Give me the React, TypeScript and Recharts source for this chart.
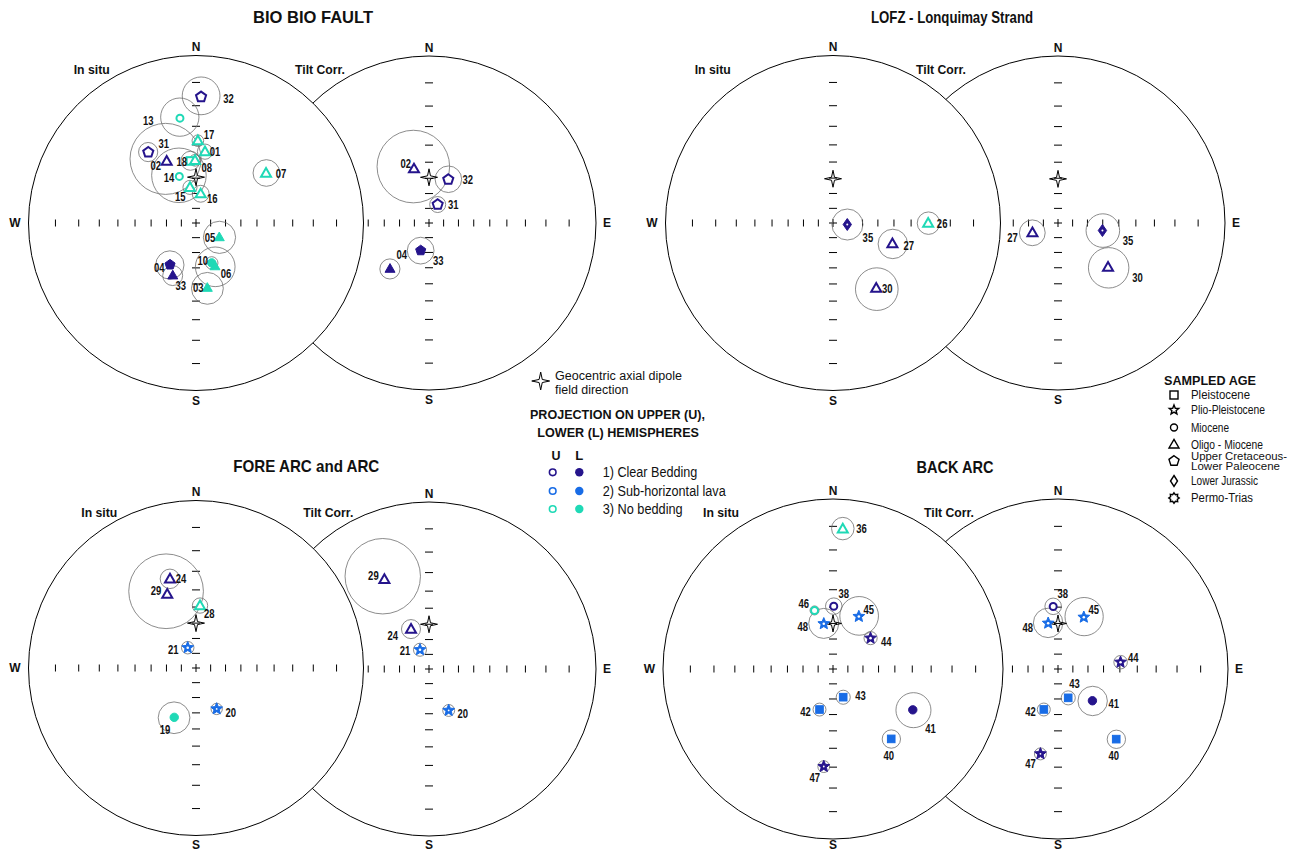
import React from 'react';
import { ScatterChart, Scatter, XAxis, YAxis } from 'recharts';

// site -> sampled age symbol
const SITE_AGE: Record<string, string> = {
  '01': 'tri', '02': 'tri', '03': 'tri', '04': 'tri', '05': 'tri', '06': 'tri', '07': 'tri', '08': 'tri',
  '10': 'circ', '13': 'circ', '14': 'circ', '15': 'tri', '16': 'tri', '17': 'tri', '18': 'sq', '19': 'circ',
  '20': 'star', '21': 'star', '24': 'tri', '26': 'tri', '27': 'tri', '28': 'tri', '29': 'tri', '30': 'tri',
  '31': 'pent', '32': 'pent', '33': 'pent', '35': 'dia', '36': 'tri', '38': 'circ', '40': 'sq', '41': 'circ',
  '42': 'sq', '43': 'sq', '44': 'star', '45': 'star', '46': 'circ', '47': 'star', '48': 'star',
};

// site -> bedding group (1 clear bedding, 2 sub-horizontal lava, 3 no bedding)
const SITE_GROUP: Record<string, number> = {
  '02': 1, '04': 1, '31': 1, '32': 1, '33': 1, '27': 1, '30': 1, '35': 1, '24': 1, '29': 1,
  '38': 1, '41': 1, '44': 1, '47': 1,
  '20': 2, '21': 2, '40': 2, '42': 2, '43': 2, '45': 2, '48': 2,
  '01': 3, '03': 3, '05': 3, '06': 3, '07': 3, '08': 3, '10': 3, '13': 3, '14': 3, '15': 3,
  '16': 3, '17': 3, '18': 3, '19': 3, '26': 3, '28': 3, '36': 3, '46': 3,
};

// [site, declination, inclination, alpha95]  (negative inclination = upper hemisphere)
const bioInSitu: [string, number, number, number][] = [
  ['32', 2.3, -16, 8.2], ['13', 351.3, -25.3, 9.3], ['17', 1.3, -37.7, 3.2], ['01', 7.2, -43.6, 4.4],
  ['31', 326, -36, 5.2], ['02', 334.6, -45.6, 20.5], ['18', 354.9, -49.2, 5.7], ['08', 359.1, -49, 3.5],
  ['14', 340.3, -57.1, 17], ['15', 350.4, -65.7, 4.6], ['16', 9.1, -70, 5.6], ['07', 54.6, -35.7, 7.2],
  ['05', 121.4, 71.5, 10.7], ['10', 158.5, 61.3, 4], ['06', 156.3, 58.5, 12.5], ['03', 170.1, 47.1, 9.4],
  ['33', 211.9, 57.3, 8.9], ['04', 203.9, 52.2, 6.1],
];
const bioTilt: [string, number, number, number][] = [
  ['02', 344.5, -52.8, 22], ['32', 23.9, -58.2, 8.4], ['31', 25.2, -76.1, 5.4],
  ['33', 196.8, 70.5, 8.9], ['04', 220.4, 50.4, 6.1],
];
const lofzInSitu: [string, number, number, number][] = [
  ['35', 96, -80.2, 10.5], ['27', 109.3, -48.8, 8.8], ['26', 90.1, -30.8, 5.8], ['30', 146.5, -39.9, 11.9],
];
const lofzTilt: [string, number, number, number][] = [
  ['27', 249.1, -71.4, 8.6], ['35', 99.6, -59.8, 10.7], ['30', 131.5, -46.4, 11.9],
];
const foreInSitu: [string, number, number, number][] = [
  ['24', 343.7, -32.1, 5.1], ['29', 338.7, -39.4, 20.5], ['28', 3.7, -49.1, 4.6],
  ['21', 337.8, -75.1, 4.2], ['20', 153.2, 59.4, 3.6], ['19', 203.8, 54.3, 9.8],
];
const foreTilt: [string, number, number, number][] = [
  ['29', 333.5, -28.2, 18.7], ['24', 335.7, -60.7, 6.1], ['21', 334.9, -75.5, 4.4], ['20', 154.6, 59.3, 3.8],
];
const backInSitu: [string, number, number, number][] = [
  ['36', 4, -10.9, 4.5], ['38', 0.7, -49.5, 4.9], ['46', 342.5, -50.3, 2.7], ['48', 348.5, -59.6, 9.4],
  ['45', 26.2, -52, 11.6], ['44', 50.6, -58.1, 4.1], ['43', 160.1, 70, 4.6], ['42', 198.4, 61.8, 4.1],
  ['41', 117.1, 34.4, 9.2], ['40', 140.2, 33.7, 4.8], ['47', 185.4, 30.1, 3],
];
const backTilt: [string, number, number, number][] = [
  ['38', 355.6, -49.5, 4.9], ['48', 347.9, -59.2, 9.2], ['45', 26.5, -52.4, 11.5], ['44', 83.8, -49.4, 4],
  ['43', 160.5, 69.6, 4.6], ['41', 132.7, 59.2, 9.2], ['42', 199.3, 61.7, 4.1], ['40', 140.3, 33.6, 4.8],
  ['47', 191.7, 36, 3.2],
];

// geocentric axial dipole inclination per region
const GAD_INC = { bio: -59.4, lofz: -60.4, fore: -60, back: -60 };

// angular distance of the axis ticks from the centre (degrees)
const TICK_DEG = [10, 20, 30, 40, 50, 60, 70, 80];

// label placement (pixels from the marker), kept apart from the data
const LABEL_OFFSET: Record<string, Record<string, [number, number]>> = {
  bioInSitu: {
    '32': [27.5, 1.6], '13': [-31.7, 2.3], '17': [11.2, -6], '01': [10, -0.6], '18': [-8.8, 0.2],
    '08': [11.7, 6.7], '31': [15.4, -8.4], '02': [-11, 4], '14': [-10.3, 0.7], '15': [-9.7, 9],
    '16': [11.6, 5], '07': [15, 0], '05': [-9.3, 0.6], '10': [-9, -2.3], '06': [11, 7], '03': [-9, 0],
    '04': [-13.4, -8.3], '33': [10.7, 20.7],
  },
  bioTilt: { '02': [-8.3, -5], '32': [19.4, 0], '31': [15.6, 0], '33': [17.6, 10], '04': [11.7, -14.3] },
  lofzInSitu: { '35': [20.6, 12.7], '27': [16.3, 1.7], '26': [14, 0.7], '30': [11, 0] },
  lofzTilt: { '27': [-20, 4.4], '35': [25.6, 10], '30': [29.4, 10.6] },
  foreInSitu: { '24': [11, -0.7], '29': [-11.3, -3.3], '28': [9.3, 7.6], '21': [-14.4, 1.3], '20': [14, 3.3], '19': [-9.3, 11.7] },
  foreTilt: { '29': [-11, -4], '24': [-18.3, 6.3], '21': [-15, 0.7], '20': [14, 3.3] },
  backInSitu: {
    '36': [18.7, 0], '38': [10, -13], '46': [-10.7, -7.3], '48': [-21, 2.7], '45': [10, -6.7], '44': [15.7, 3],
    '43': [17.3, -1.7], '42': [-14, 1.7], '41': [17.7, 19], '40': [-2.4, 16.7], '47': [-9, 10.7],
  },
  backTilt: {
    '38': [9.6, -13.3], '48': [-20.4, 4], '45': [10, -7.4], '44': [12.7, -4.4], '43': [6.3, -14],
    '41': [21.3, 3], '42': [-13.3, 1.7], '40': [-2.4, 16.3], '47': [-10, 10],
  },
};

const COLORS: Record<number, string> = { 1: '#25148c', 2: '#186ce6', 3: '#1fd9b6' };
const FONT = "'Liberation Sans', Arial, Helvetica, sans-serif";
const HALF = 200;
const RAD = Math.PI / 180;

// Wulff (equal-angle) projection, unit radius
const project = (dec: number, inc: number) => {
  const r = Math.tan(((90 - Math.abs(inc)) * RAD) / 2);
  return { x: r * Math.sin(dec * RAD), y: r * Math.cos(dec * RAD) };
};

// a small circle stays a circle in the stereographic projection
const confidence = (dec: number, inc: number, a95: number) => {
  const t = 90 - Math.abs(inc);
  const r1 = Math.tan(((t - a95) * RAD) / 2);
  const r2 = Math.tan(((t + a95) * RAD) / 2);
  const rc = (r1 + r2) / 2;
  return { x: rc * Math.sin(dec * RAD), y: rc * Math.cos(dec * RAD), rad: (r2 - r1) / 2 };
};

const pts = (list: number[][]) => list.map((p) => p.map((v) => v.toFixed(2)).join(',')).join(' ');
const ring = (n: number, rOut: number, rIn: number | null, x: number, y: number, rot = -90) => {
  const out: number[][] = [];
  const m = rIn == null ? n : n * 2;
  for (let i = 0; i < m; i++) {
    const a = (rot + (360 / m) * i) * RAD;
    const r = rIn == null || i % 2 === 0 ? rOut : rIn;
    out.push([x + r * Math.cos(a), y + r * Math.sin(a)]);
  }
  return pts(out);
};

function Marker({ kind, x, y, color, open, legend = false }: { kind: string; x: number; y: number; color: string; open: boolean; legend?: boolean }) {
  const fill = open ? '#fff' : color;
  const sw = legend ? 1.4 : open ? 2 : 1;
  const common = { fill, stroke: color, strokeWidth: sw, strokeLinejoin: 'miter' as const };
  switch (kind) {
    case 'tri':
      return <polygon points={pts([[x, y - 5.2], [x + 5, y + 3.5], [x - 5, y + 3.5]])} {...common} />;
    case 'pent':
      return <polygon points={ring(5, 5.3, null, x, y)} {...common} />;
    case 'circ':
      return <circle cx={x} cy={y} r={open ? 3.5 : 4.2} {...common} />;
    case 'dia':
      if (legend) return <polygon points={pts([[x, y - 5.5], [x + 3.5, y], [x, y + 5.5], [x - 3.5, y]])} {...common} />;
      // the thick outline leaves only a pin-hole in the middle
      return (
        <g>
          <polygon points={pts([[x, y - 6], [x + 4.2, y], [x, y + 6], [x - 4.2, y]])} fill={color} stroke={color} strokeWidth={1} />
          {open && <circle cx={x} cy={y} r={1} fill="#fff" />}
        </g>
      );
    case 'sq':
      return legend ? (
        <rect x={x - 4} y={y - 4} width={8} height={8} {...common} />
      ) : (
        <rect x={x - 3.8} y={y - 3.8} width={7.6} height={7.6} {...common} />
      );
    case 'star':
      if (legend) return <polygon points={ring(5, 5, 2.2, x, y)} {...common} />;
      return (
        <g>
          <polygon points={ring(5, 6.2, 2.8, x, y)} fill={color} stroke={color} strokeWidth={1} />
          <circle cx={x} cy={y} r={open ? 1.3 : 0.9} fill="#fff" />
        </g>
      );
    case 'gear':
      return <polygon points={ring(8, 5.2, 3.6, x, y, -90)} {...common} />;
    default:
      return null;
  }
}

function GadStar({ x, y, s = 1 }: { x: number; y: number; s?: number }) {
  return <polygon points={ring(4, 8.5 * s, 2.1 * s, x, y)} fill="none" stroke="#000" strokeWidth={1} />;
}

// text squeezed horizontally, as in the figure
function Narrow({ x, y, text, size = 12.5, weight = 700, sx = 0.76, anchor = 'middle' }: any) {
  return (
    <text transform={`translate(${x},${y}) scale(${sx},1)`} textAnchor={anchor} dominantBaseline="central"
      fontFamily={FONT} fontSize={size} fontWeight={weight} fill="#111">
      {text}
    </text>
  );
}

// text fitted to the width measured on the reference
function Fit({ x, y, w, text, size, weight = 400, anchor = 'start' }: any) {
  return (
    <text x={x} y={y} textLength={w} lengthAdjust="spacingAndGlyphs" textAnchor={anchor} dominantBaseline="central"
      fontFamily={FONT} fontSize={size} fontWeight={weight} fill="#111">
      {text}
    </text>
  );
}

type NetProps = {
  name: string; cx: number; cy: number; R: number;
  rows: [string, number, number, number][]; gad: number; side: 'insitu' | 'tilt';
};

function Stereonet({ name, cx, cy, R, rows, gad, side }: NetProps) {
  const L = HALF / R;
  const disk = [{ x: 0, y: 0 }];
  const ticks: { x: number; y: number; d: string }[] = [{ x: 0, y: 0, d: 'c' }];
  TICK_DEG.forEach((t) => {
    const r = Math.tan((t * RAD) / 2);
    ticks.push({ x: 0, y: r, d: 'ns' }, { x: 0, y: -r, d: 'ns' }, { x: r, y: 0, d: 'ew' }, { x: -r, y: 0, d: 'ew' });
  });
  const circles = rows.map(([id, dec, inc, a]) => ({ id, ...confidence(dec, inc, a) }));
  const sites = rows.map(([id, dec, inc]) => ({
    id, ...project(dec, inc), open: inc < 0, age: SITE_AGE[id], color: COLORS[SITE_GROUP[id]],
  }));
  const gadPt = [{ ...project(0, gad) }];
  // the S letter must stay inside the page
  const sGap = Math.min(10, 844.5 - cy - R);
  const cardinals = [
    { t: 'N', x: 0, y: 1 + 8.5 / R },
    { t: 'S', x: 0, y: -1 - sGap / R },
    side === 'insitu' ? { t: 'W', x: -1 - 13.5 / R, y: 0 } : { t: 'E', x: 1 + 11 / R, y: 0 },
  ];
  const offs = LABEL_OFFSET[name] || {};

  return (
    <div style={{ position: 'absolute', left: cx - HALF, top: cy - HALF, width: 2 * HALF, height: 2 * HALF }}>
      <ScatterChart width={2 * HALF} height={2 * HALF} margin={{ top: 0, right: 0, bottom: 0, left: 0 }}>
        <XAxis type="number" dataKey="x" domain={[-L, L]} hide allowDataOverflow />
        <YAxis type="number" dataKey="y" domain={[-L, L]} hide allowDataOverflow />
        <Scatter data={disk} isAnimationActive={false}
          shape={(p: any) => <circle cx={p.cx} cy={p.cy} r={R} fill="#fff" stroke="#000" strokeWidth={1} />} />
        <Scatter data={ticks} isAnimationActive={false}
          shape={(p: any) => {
            const d = p.payload.d;
            if (d === 'ns') return <line x1={p.cx - 4} x2={p.cx + 4} y1={p.cy} y2={p.cy} stroke="#000" strokeWidth={1} />;
            if (d === 'ew') return <line x1={p.cx} x2={p.cx} y1={p.cy - 3.5} y2={p.cy + 3.5} stroke="#000" strokeWidth={1} />;
            return (
              <g stroke="#000" strokeWidth={1}>
                <line x1={p.cx - 4} x2={p.cx + 4} y1={p.cy} y2={p.cy} />
                <line x1={p.cx} x2={p.cx} y1={p.cy - 4} y2={p.cy + 4} />
              </g>
            );
          }} />
        <Scatter data={circles} isAnimationActive={false}
          shape={(p: any) => <circle cx={p.cx} cy={p.cy} r={p.payload.rad * R} fill="none" stroke="#6e6e6e" strokeWidth={0.8} />} />
        <Scatter data={gadPt} isAnimationActive={false} shape={(p: any) => <GadStar x={p.cx} y={p.cy} />} />
        <Scatter data={sites} isAnimationActive={false}
          shape={(p: any) => <Marker kind={p.payload.age} x={p.cx} y={p.cy} color={p.payload.color} open={p.payload.open} />} />
        <Scatter data={sites} isAnimationActive={false}
          shape={(p: any) => {
            const o = offs[p.payload.id] || [12, 0];
            return <Narrow x={p.cx + o[0]} y={p.cy + o[1]} text={p.payload.id} />;
          }} />
        <Scatter data={cardinals} isAnimationActive={false}
          shape={(p: any) => (
            <text x={p.cx} y={p.cy} textAnchor="middle" dominantBaseline="central" fontFamily={FONT}
              fontSize={12} fontWeight={700} fill="#111">{p.payload.t}</text>
          )} />
      </ScatterChart>
    </div>
  );
}

const NETS: NetProps[] = [
  { name: 'bioTilt', cx: 429, cy: 222.5, R: 167, rows: bioTilt, gad: GAD_INC.bio, side: 'tilt' },
  { name: 'bioInSitu', cx: 196, cy: 222.5, R: 167.5, rows: bioInSitu, gad: GAD_INC.bio, side: 'insitu' },
  { name: 'lofzTilt', cx: 1058.3, cy: 222.5, R: 167, rows: lofzTilt, gad: GAD_INC.lofz, side: 'tilt' },
  { name: 'lofzInSitu', cx: 832.5, cy: 222.5, R: 167.5, rows: lofzInSitu, gad: GAD_INC.lofz, side: 'insitu' },
  { name: 'foreTilt', cx: 429, cy: 668.5, R: 167, rows: foreTilt, gad: GAD_INC.fore, side: 'tilt' },
  { name: 'foreInSitu', cx: 196, cy: 668, R: 167.5, rows: foreInSitu, gad: GAD_INC.fore, side: 'insitu' },
  { name: 'backTilt', cx: 1057.5, cy: 668.5, R: 170, rows: backTilt, gad: GAD_INC.back, side: 'tilt' },
  { name: 'backInSitu', cx: 832.5, cy: 668.5, R: 170, rows: backInSitu, gad: GAD_INC.back, side: 'insitu' },
];

const AGE_LEGEND: [string, string[]][] = [
  ['sq', ['Pleistocene']],
  ['star', ['Plio-Pleistocene']],
  ['circ', ['Miocene']],
  ['tri', ['Oligo - Miocene']],
  ['pent', ['Upper Cretaceous-', 'Lower Paleocene']],
  ['dia', ['Lower Jurassic']],
  ['gear', ['Permo-Trias']],
];
const GROUP_LEGEND = ['1) Clear Bedding', '2) Sub-horizontal lava', '3) No bedding'];

function Overlay() {
  const ageRows = [395, 410, 427.5, 444.5, 461, 481, 498];
  const ageW: Record<string, number> = {
    Pleistocene: 59, 'Plio-Pleistocene': 74, Miocene: 38, 'Oligo - Miocene': 72,
    'Upper Cretaceous-': 96, 'Lower Paleocene': 89, 'Lower Jurassic': 67, 'Permo-Trias': 62,
  };
  const groupRows = [472.3, 491, 509];
  const groupW = [94.7, 123, 80];
  return (
    <svg width={1294} height={852} style={{ position: 'absolute', left: 0, top: 0, pointerEvents: 'none' }}>
      <Fit x={313} y={17} w={120} text="BIO BIO FAULT" size={17} weight={700} anchor="middle" />
      <Fit x={952} y={17} w={162} text="LOFZ - Lonquimay Strand" size={17} weight={700} anchor="middle" />
      <Fit x={306.3} y={466.7} w={146} text="FORE ARC and ARC" size={17} weight={700} anchor="middle" />
      <Fit x={955} y={467} w={77} text="BACK ARC" size={17} weight={700} anchor="middle" />

      {[[91.7, 70], [712.7, 70], [99.3, 513.3], [721, 513.3]].map(([x, y], i) => (
        <Fit key={'is' + i} x={x} y={y} w={36} text="In situ" size={12.5} weight={700} anchor="middle" />
      ))}
      {[[320, 70], [941, 70], [328.3, 513.3], [949, 513.3]].map(([x, y], i) => (
        <Fit key={'tc' + i} x={x} y={y} w={50} text="Tilt Corr." size={12.5} weight={700} anchor="middle" />
      ))}

      <GadStar x={540.7} y={381} s={1.05} />
      <Fit x={555} y={376.2} w={127} text="Geocentric axial dipole" size={12.5} />
      <Fit x={555} y={389.6} w={73.3} text="field direction" size={12.5} />
      <Fit x={530} y={414.3} w={175} text="PROJECTION ON UPPER (U)," size={13.5} weight={700} />
      <Fit x={537.3} y={432.3} w={161.7} text="LOWER (L) HEMISPHERES" size={13.5} weight={700} />
      <Fit x={556} y={455} w={9} text="U" size={13.5} weight={700} anchor="middle" />
      <Fit x={579.3} y={455} w={8} text="L" size={13.5} weight={700} anchor="middle" />
      {GROUP_LEGEND.map((t, i) => (
        <g key={t}>
          <circle cx={552.7} cy={groupRows[i]} r={3.3} fill="#fff" stroke={COLORS[i + 1]} strokeWidth={1.6} />
          <circle cx={579.3} cy={groupRows[i]} r={4.2} fill={COLORS[i + 1]} />
          <Fit x={602.7} y={groupRows[i]} w={groupW[i]} text={t} size={14} />
        </g>
      ))}

      <Fit x={1164} y={380} w={92} text="SAMPLED AGE" size={13.5} weight={700} />
      {AGE_LEGEND.map(([kind, lines], i) => (
        <g key={kind}>
          <Marker kind={kind} x={1174} y={ageRows[i]} color="#000" open legend />
          {lines.map((t, j) => (
            <Fit key={t} x={1191} y={ageRows[i] + (lines.length > 1 ? (j === 0 ? -4.8 : 4.8) : 0)} w={ageW[t]} text={t} size={lines.length > 1 ? 10.5 : 12.5} />
          ))}
        </g>
      ))}
    </svg>
  );
}

export default function App() {
  return (
    <div style={{ position: 'absolute', left: 0, top: 0, width: 1294, height: 852, background: '#fff', overflow: 'hidden' }}>
      {NETS.map((n) => (
        <Stereonet key={n.name} {...n} />
      ))}
      <Overlay />
    </div>
  );
}
